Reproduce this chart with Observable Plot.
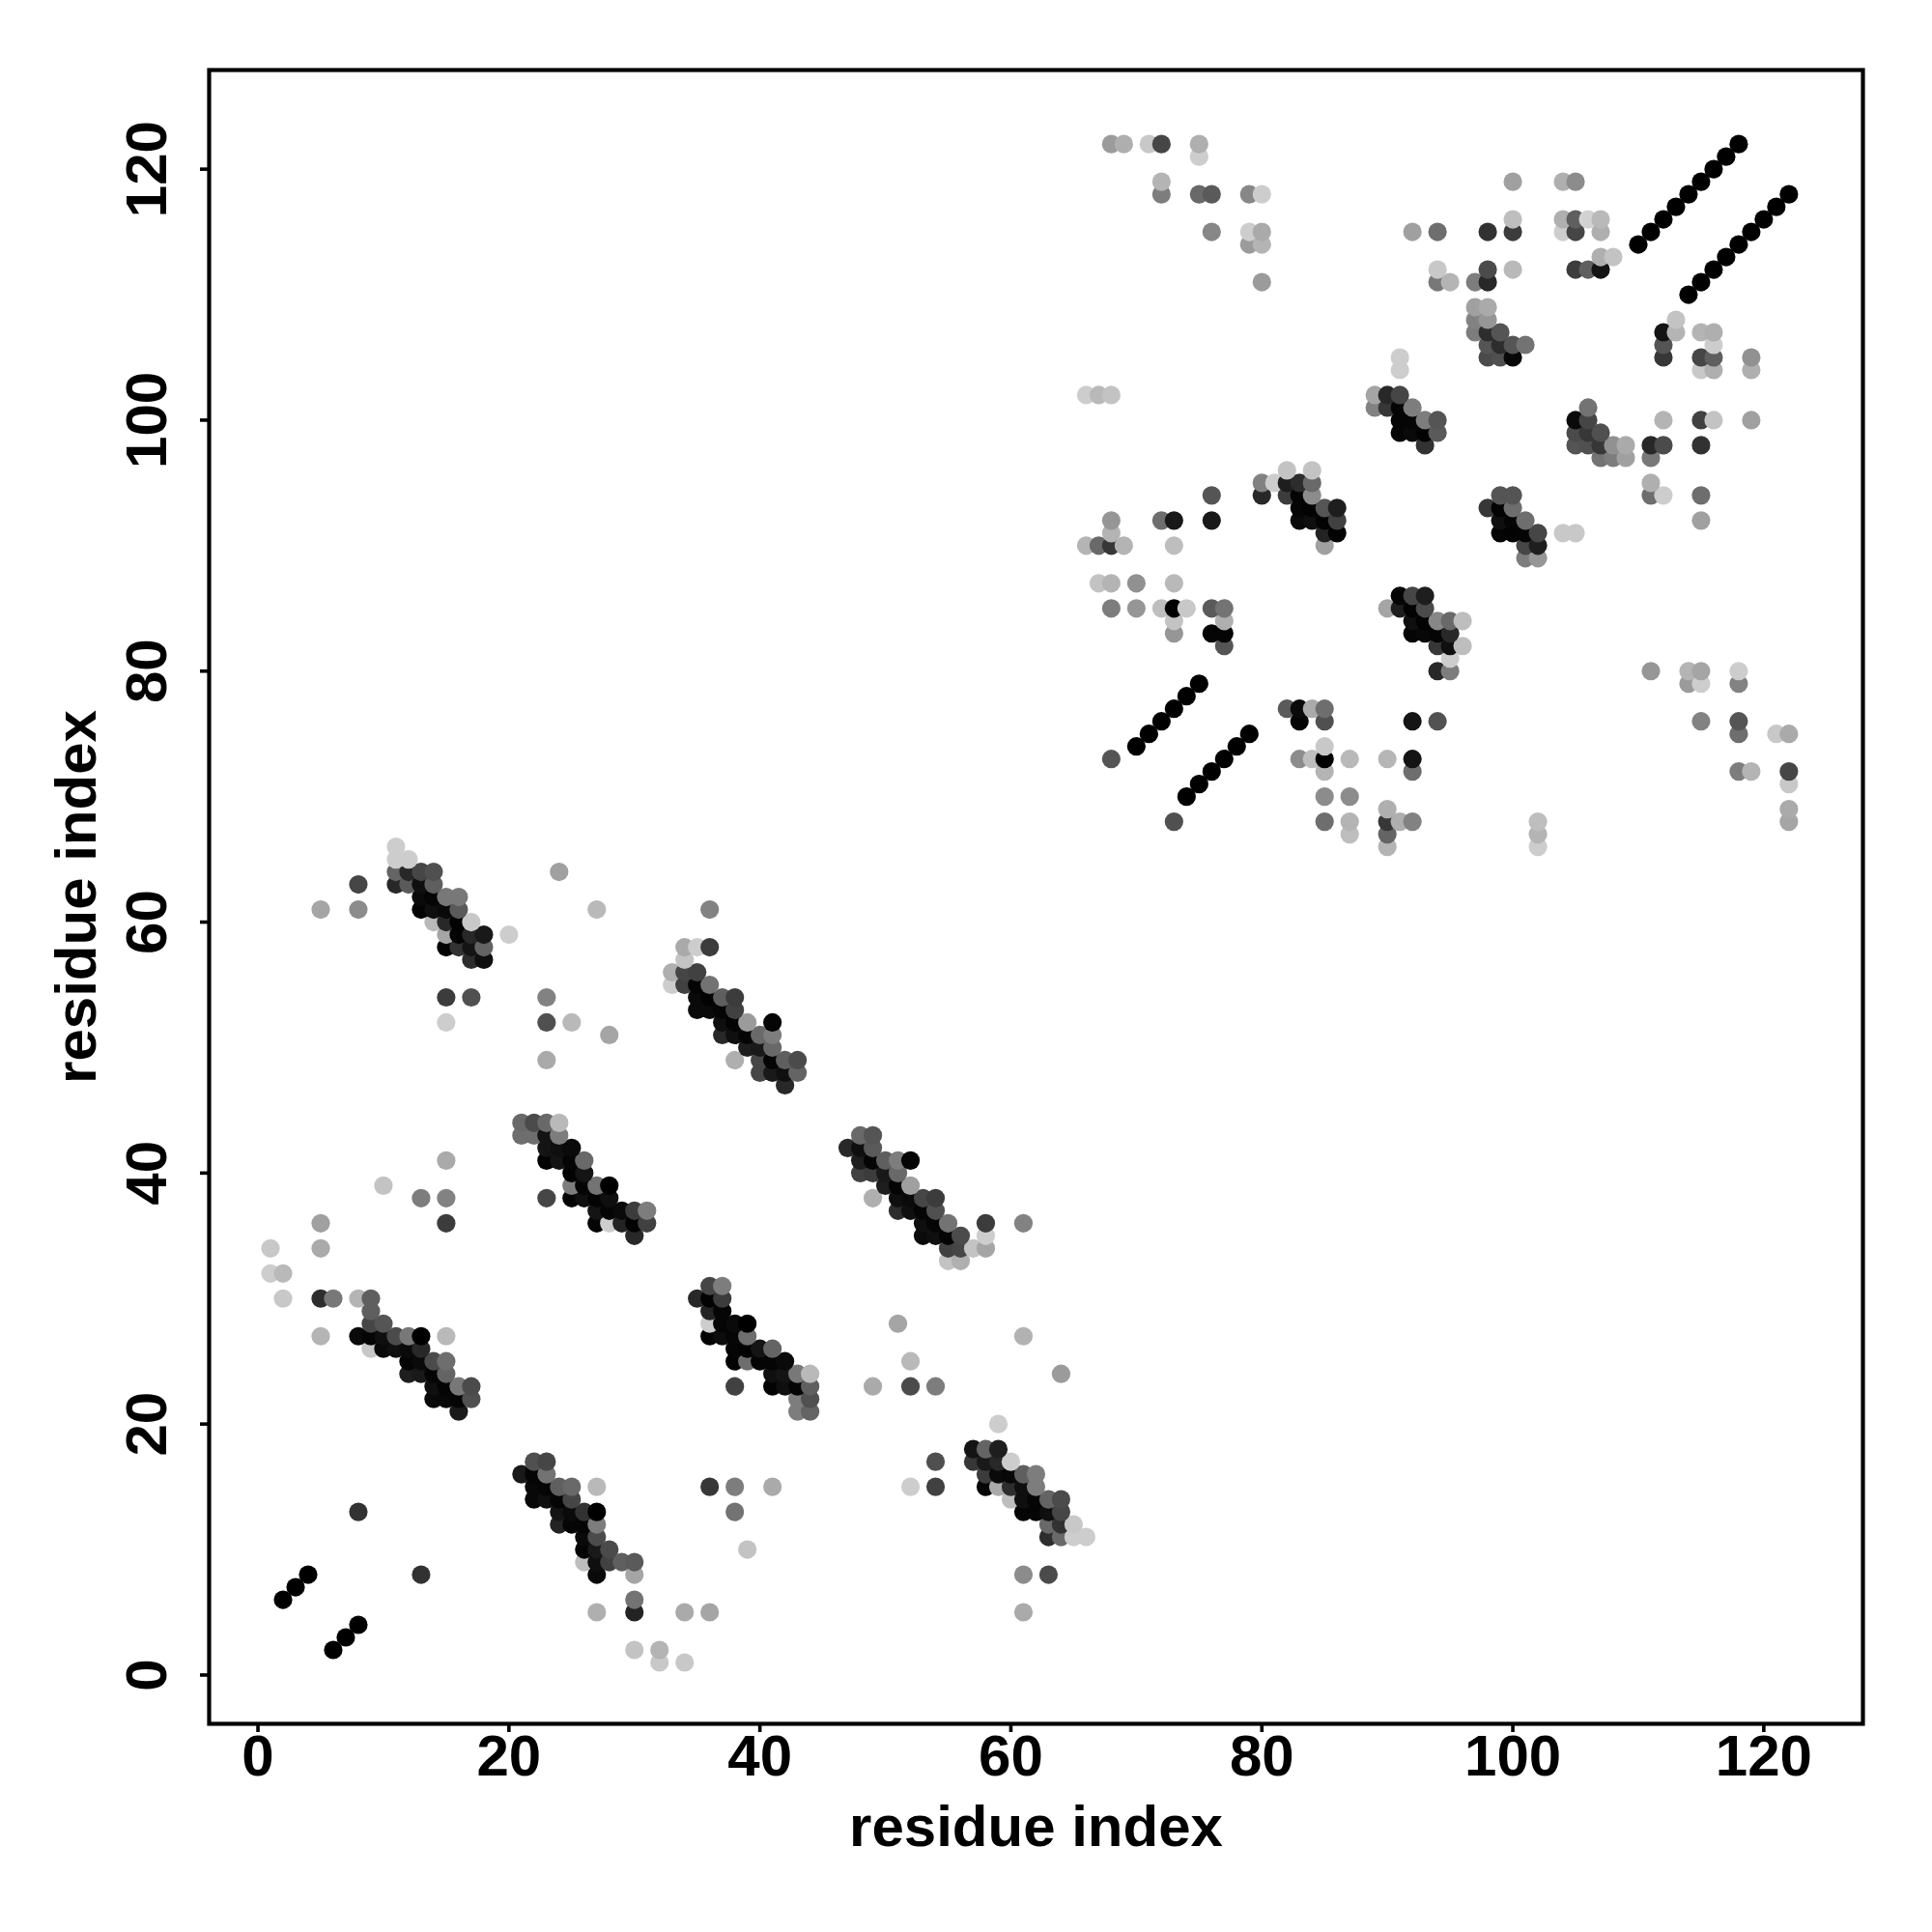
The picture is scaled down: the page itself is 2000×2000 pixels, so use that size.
<!DOCTYPE html>
<html>
<head>
<meta charset="utf-8">
<style>
html,body{margin:0;padding:0;background:#fff}
svg{display:block}
</style>
<script src="https://cdn.jsdelivr.net/npm/d3@7"></script>
<script src="https://cdn.jsdelivr.net/npm/@observablehq/plot@0.6"></script>
</head>
<body>
<div id="chart"></div>
<script>
// Each contact: [residue x, residue y, grey level 0 (strong) .. 255 (weak)]
const diagonals = [
[2,6,0],[3,7,0],[4,8,0],[6,2,0],[7,3,0],[8,4,0],
[70,74,0],[71,75,0],[72,76,0],[73,77,0],[74,78,0],[75,79,0],
[74,70,0],[75,71,0],[76,72,0],[77,73,0],[78,74,0],[79,75,0],
[110,114,0],[111,115,0],[112,116,0],[113,117,0],[114,118,0],[115,119,0],[116,120,0],[117,121,0],[118,122,0],
[114,110,0],[115,111,0],[116,112,0],[117,113,0],[118,114,0],[119,115,0],[120,116,0],[121,117,0],[122,118,0]
];
const blockA = [
[5,36,160],[15,36,60],[1,34,200],[5,34,170],[1,32,205],[2,32,185],[2,30,200],[5,30,45],[6,30,120],[8,30,180],[9,30,95],
[9,29,95],[9,28,70],[10,28,85],[5,27,180],[8,27,10],[9,27,5],[10,27,15],[11,27,75],[12,27,120],[13,27,0],[15,27,185],
[9,26,200],[10,26,10],[11,26,15],[12,26,10],[13,26,40],[12,25,5],[13,25,10],[14,25,75],[15,25,110],
[12,24,30],[13,24,25],[14,24,5],[15,24,100],[14,23,15],[15,23,5],[16,23,120],[17,23,75],
[14,22,10],[15,22,8],[16,22,5],[17,22,80],[16,21,25]
];
const blockB = [
[21,16,25],[22,17,80],[23,17,70],[22,16,5],[23,16,115],[22,15,8],[23,15,5],[24,15,95],[25,15,105],[27,15,185],
[22,14,8],[23,14,15],[24,14,5],[25,14,70],[24,13,20],[25,13,10],[26,13,50],[27,13,0],
[24,12,35],[25,12,5],[26,12,5],[27,12,125],[26,11,10],[27,11,75],[26,10,5],[27,10,25],[28,10,75],
[26,9,190],[27,9,15],[28,9,65],[29,9,95],[30,9,90],[27,8,10],[30,8,165],[30,6,115],
[27,5,175],[30,5,35],[34,5,170],[36,5,165],[30,2,195],[32,2,180],[32,1,200],[34,1,200],
[8,13,50],[13,8,50],[36,15,55],[38,15,125],[41,15,170],[38,13,115],[39,10,195]
];
const blockC = [
[35,30,40],[36,31,70],[37,31,125],[36,30,3],[37,30,60],[36,29,35],[37,29,5],[36,28,205],[37,28,5],[38,28,10],[39,28,0],
[36,27,3],[37,27,12],[38,27,5],[39,27,110],[38,26,5],[39,26,3],[40,26,20],[41,26,100],
[38,25,3],[39,25,110],[40,25,5],[41,25,5],[42,25,10],[41,24,15],[42,24,20],[43,24,120],[44,24,185],
[38,23,65],[41,23,3],[42,23,15],[43,23,5],[44,23,95],[43,22,125],[44,22,80],[43,21,125],[44,21,100]
];
const blockD = [
[51,28,165],[61,27,178],[52,25,185],[64,24,155],[49,23,170],[52,23,75],[54,23,125],[59,20,205],
[57,18,20],[58,18,100],[59,18,30],[57,17,55],[58,17,25],[59,17,40],[60,17,205],
[58,16,60],[59,16,10],[60,16,8],[61,16,95],[62,16,125],[54,17,80],[52,15,205],[54,15,65],
[58,15,5],[59,15,170],[60,15,45],[61,15,15],[62,15,125],[60,14,190],[61,14,15],[62,14,5],[63,14,100],[64,14,75],
[61,13,5],[62,13,5],[63,13,15],[64,13,70],[63,12,105],[64,12,50],[65,12,200],
[63,11,45],[64,11,105],[65,11,205],[66,11,205],[61,8,140],[63,8,75],[61,5,170]
];
const blockE = [
[34,58,170],[35,58,205],[36,58,60],[36,61,130],[34,57,195],[33,56,175],[34,56,70],[35,56,65],
[33,55,205],[34,55,65],[35,55,5],[36,55,115],[35,54,10],[36,54,3],[37,54,95],[38,54,60],
[35,53,10],[36,53,10],[37,53,5],[38,53,65],[37,52,15],[38,52,3],[39,52,155],[41,52,5],
[37,51,40],[38,51,15],[39,51,5],[40,51,105],[41,51,125],[39,50,30],[40,50,25],[41,50,105],
[38,49,175],[40,49,70],[41,49,5],[42,49,95],[43,49,75],[40,48,70],[41,48,25],[42,48,15],[43,48,100],[42,47,40]
];
const blockF = [
[48,43,105],[49,43,85],[47,42,40],[48,42,15],[49,42,90],[48,41,30],[49,41,5],[50,41,95],[51,41,125],[52,41,5],
[48,40,65],[49,40,60],[50,40,25],[51,40,105],[50,39,30],[51,39,5],[52,39,160],
[49,38,175],[51,38,15],[52,38,10],[53,38,70],[54,38,60],[51,37,45],[52,37,15],[53,37,5],[54,37,80],
[53,36,15],[54,36,5],[55,36,115],[58,36,60],[61,36,130],[53,35,10],[54,35,15],[55,35,5],[56,35,75],[58,35,205],
[55,34,65],[56,34,70],[57,34,195],[58,34,165],[55,33,195],[56,33,175]
];
const blockG = [
[11,66,205],[11,65,205],[12,65,205],[24,64,160],[11,64,100],[12,64,40],[13,64,70],[14,64,80],
[8,63,70],[11,63,40],[12,63,90],[13,63,15],[14,63,95],[13,62,10],[14,62,5],[15,62,120],[16,62,120],
[5,61,165],[8,61,140],[13,61,3],[14,61,15],[15,61,10],[16,61,90],[27,61,185],
[14,60,185],[15,60,40],[16,60,3],[17,60,200],[15,59,165],[16,59,5],[17,59,40],[18,59,25],[20,59,205],
[15,58,3],[16,58,50],[17,58,20],[18,58,100],[17,57,45],[18,57,15],[15,54,60],[17,54,80],[23,54,130],
[15,52,205],[23,52,80],[25,52,185],[28,51,165],[23,49,170]
];
const blockH = [
[21,44,105],[22,44,75],[23,44,105],[24,44,185],[21,43,110],[22,43,110],[23,43,20],[24,43,125],
[23,42,20],[24,42,15],[25,42,10],[23,41,3],[24,41,20],[25,41,5],[26,41,105],[25,40,3],[26,40,20],[15,41,170],[10,39,195],
[25,39,125],[26,39,5],[27,39,115],[28,39,0],[13,38,125],[15,38,130],[23,38,70],[25,38,5],[26,38,15],[27,38,3],[28,38,15],
[27,37,20],[28,37,5],[29,37,10],[30,37,60],[31,37,125],[27,36,5],[28,36,205],[29,36,35],[30,36,3],[31,36,65],[30,35,40]
];
const blockI = [
[76,94,85],[72,92,110],[73,92,25],[76,92,25],[68,92,150],[68,91,180],[66,90,180],[67,90,105],[68,90,55],[69,90,180],[73,90,190],
[67,87,195],[68,87,180],[70,87,145],[73,87,185],[68,85,125],[70,85,150],[72,85,190],[73,85,0],[74,85,200],[76,85,90],[77,85,115],
[73,84,195],[77,84,175],[73,83,150],[76,83,5],[77,83,5],[77,82,85],[68,73,85],[73,68,80],
[80,95,130],[81,95,205],[82,95,30],[83,95,45],[84,95,105],[82,96,195],[84,96,195],[80,94,40],[82,94,60],[83,94,5],[84,94,140],
[83,93,5],[84,93,3],[85,93,85],[86,93,30],[83,92,10],[84,92,15],[85,92,3],[86,92,65],[85,91,35],[86,91,3],[85,90,160]
];
const blockJ = [
[82,77,90],[83,77,10],[84,77,170],[85,77,110],[83,76,5],[85,76,80],[92,76,20],[94,76,82],[85,74,200],
[83,73,140],[84,73,190],[85,73,0],[87,73,185],[90,73,182],[92,73,20],[85,72,180],[92,72,110],[85,70,140],[87,70,140],
[85,68,110],[87,68,180],[90,69,175],[90,68,55],[91,68,175],[92,68,130],[87,67,190],[90,67,100],[90,66,180]
];
const blockK = [
[99,94,85],[100,94,85],[98,93,55],[99,93,3],[100,93,110],[99,92,15],[100,92,5],[101,92,110],
[99,91,5],[100,91,3],[101,91,5],[102,91,70],[104,91,200],[105,91,200],[101,90,70],[102,90,30],[101,89,125],[102,89,150],
[91,86,5],[92,86,70],[93,86,30],[90,85,165],[91,85,30],[92,85,3],[93,85,75],[92,84,15],[93,84,3],[94,84,135],[95,84,105],[96,84,190],
[92,83,5],[93,83,8],[94,83,5],[95,83,40],[94,82,55],[95,82,15],[96,82,190],[95,81,205],[94,80,40],[95,80,125]
];
const blockL = [
[111,80,150],[114,80,180],[115,80,165],[118,80,205],[114,79,155],[115,79,205],[118,79,130],[115,76,130],[118,76,85],
[118,75,110],[121,75,200],[122,75,170],[118,72,125],[119,72,180],[122,72,70],[122,71,200],[122,69,170],[122,68,165],
[102,68,190],[102,67,180],[102,66,205]
];
const blockM = [
[68,122,155],[69,122,175],[71,122,200],[72,122,70],[75,122,175],[75,121,205],[72,119,180],[72,118,125],[75,118,105],[76,118,90],[79,118,135],[80,118,205],
[100,119,160],[104,119,175],[105,119,140],[100,116,190],[104,116,175],[105,116,95],[106,116,210],[107,116,185],
[76,115,135],[79,115,205],[80,115,170],[92,115,160],[94,115,110],[98,115,50],[100,115,60],[104,115,205],[105,115,70],[107,115,175],
[79,114,155],[80,114,180],[94,112,200],[98,112,75],[100,112,185],[105,112,60],[106,112,95],[107,112,20],[107,113,175],[108,113,195],
[80,111,155],[94,111,120],[95,111,180],[97,111,125],[98,111,40],[97,109,160],[98,109,170],[97,108,130],[98,108,150],
[97,107,125],[98,107,45],[99,107,85],[98,106,85],[99,106,45],[100,106,85],[101,106,115],[98,105,75],[99,105,80],[100,105,8]
];
const blockN = [
[91,105,205],[91,104,205],[66,102,205],[67,102,185],[68,102,195],[89,102,165],[90,102,40],[91,102,70],
[89,101,130],[90,101,55],[91,101,5],[92,101,125],[91,100,5],[92,100,5],[93,100,125],[94,100,85],
[91,99,5],[92,99,10],[93,99,3],[94,99,90],[93,98,50],[106,101,115],[105,100,10],[106,100,70],
[105,99,75],[106,99,55],[107,99,80],[105,98,85],[106,98,80],[107,98,55],[108,98,145],[109,98,170],
[107,97,115],[108,97,125],[109,97,160]
];
const blockO = [
[113,108,195],[112,107,20],[113,107,180],[115,107,180],[116,107,175],[112,106,85],[116,106,205],
[112,105,55],[115,105,70],[116,105,95],[119,105,145],[115,104,200],[116,104,175],[119,104,175],
[112,100,180],[115,100,65],[116,100,195],[119,100,160],[111,98,40],[112,98,75],[115,98,50],[111,97,120],
[111,95,175],[111,94,110],[112,94,205],[115,94,110],[115,92,160]
];
const axisTicks = [0,20,40,60,80,100,120];
const axisLabel = "residue index";

const contacts = [diagonals,blockA,blockB,blockC,blockD,blockE,blockF,blockG,blockH,blockI,blockJ,blockK,blockL,blockM,blockN,blockO]
  .flat()
  .map(([x,y,level]) => ({x,y,level}))
  .sort((a,b) => a.y - b.y || a.x - b.x);

const font = {fontFamily:"Liberation Sans, Arial, sans-serif", fontWeight:"bold", fontSize:60};

const chart = Plot.plot({
  width:2000, height:2000,
  marginLeft:216, marginRight:72, marginTop:72, marginBottom:216,
  style:{background:"#fff", color:"#000", overflow:"visible"},
  x:{domain:[-3.89,127.9]},
  y:{domain:[-3.89,127.9]},
  color:{type:"linear", domain:[0,255], range:["#000000","#ffffff"], legend:false},
  marks:[
    Plot.dot(contacts,{x:"x",y:"y",r:9.6,fill:"level",stroke:"none"}),
    Plot.frame({stroke:"#000",strokeWidth:4.2}),
    Plot.axisX({ticks:axisTicks,tickSize:9,tickPadding:2,strokeWidth:3.6,label:null,...font,tickFormat:d=>String(d)}),
    Plot.axisY({ticks:axisTicks,tickSize:9,tickPadding:36,strokeWidth:3.6,label:null,tickRotate:-90,textAnchor:"middle",lineAnchor:"bottom",...font,tickFormat:d=>String(d)}),
    Plot.text([axisLabel],{frameAnchor:"bottom",dy:126,...font,lineAnchor:"bottom",text:d=>d,fontSize:60}),
    Plot.text([axisLabel],{frameAnchor:"left",dx:-118,...font,rotate:-90,textAnchor:"middle",lineAnchor:"bottom",text:d=>d,fontSize:60})
  ]
});
document.getElementById("chart").appendChild(chart);
</script>
</body>
</html>
